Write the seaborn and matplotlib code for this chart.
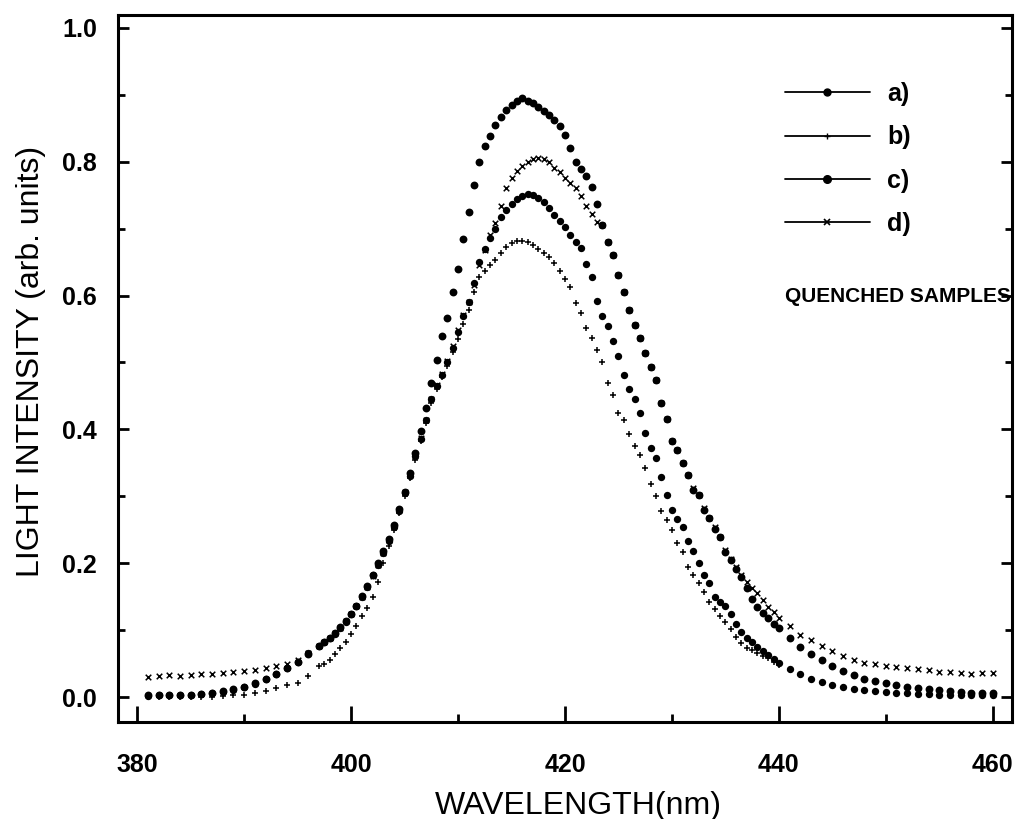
import numpy as np
import pandas as pd
import matplotlib
matplotlib.use("Agg")
import matplotlib.pyplot as plt
from matplotlib.lines import Line2D
from matplotlib.ticker import MultipleLocator
import seaborn as sns

# ---------------- data ----------------
# sampling: 1 nm on the tails, 0.5 nm across the band
wavelength_nm = np.concatenate([np.arange(381, 397, 1.0),
                                np.arange(397, 440.5, 0.5),
                                np.arange(441, 461, 1.0)])

series_a = [0.003, 0.003, 0.004, 0.004, 0.004, 0.005, 0.006, 0.009, 0.012, 0.016, 0.021, 0.027, 0.035, 0.043, 0.053, 0.064,
            0.077, 0.083, 0.089, 0.096, 0.105, 0.114, 0.125, 0.137, 0.151, 0.166,
            0.183, 0.200, 0.218, 0.237, 0.258, 0.281, 0.307, 0.335, 0.365, 0.398,
            0.432, 0.470, 0.503, 0.540, 0.566, 0.605, 0.640, 0.685, 0.725, 0.765,
            0.800, 0.823, 0.838, 0.854, 0.867, 0.877, 0.884, 0.890, 0.895, 0.891,
            0.887, 0.882, 0.875, 0.870, 0.862, 0.853, 0.840, 0.820, 0.800, 0.789,
            0.778, 0.762, 0.736, 0.706, 0.680, 0.660, 0.630, 0.606, 0.578, 0.556,
            0.537, 0.514, 0.494, 0.474, 0.440, 0.415, 0.382, 0.369, 0.350, 0.332,
            0.310, 0.302, 0.280, 0.268, 0.252, 0.240, 0.217, 0.205, 0.192, 0.180,
            0.163, 0.147, 0.135, 0.126, 0.118, 0.110, 0.103,
            0.089, 0.075, 0.064, 0.055, 0.046, 0.039, 0.033, 0.028, 0.025, 0.022,
            0.019, 0.016, 0.014, 0.013, 0.011, 0.009, 0.008, 0.007, 0.006, 0.006]

series_b = [0.000, 0.000, 0.000, 0.001, 0.001, 0.001, 0.001, 0.002, 0.003, 0.004, 0.006, 0.010, 0.014, 0.019, 0.022, 0.032,
            0.046, 0.050, 0.056, 0.064, 0.074, 0.083, 0.095, 0.106, 0.122, 0.133,
            0.150, 0.172, 0.200, 0.226, 0.250, 0.275, 0.300, 0.328, 0.355, 0.383,
            0.410, 0.440, 0.460, 0.478, 0.495, 0.515, 0.535, 0.558, 0.578, 0.605,
            0.628, 0.637, 0.645, 0.653, 0.664, 0.672, 0.678, 0.682, 0.682, 0.680,
            0.675, 0.670, 0.663, 0.658, 0.649, 0.636, 0.624, 0.612, 0.589, 0.574,
            0.552, 0.536, 0.518, 0.500, 0.469, 0.452, 0.425, 0.414, 0.393, 0.375,
            0.362, 0.342, 0.318, 0.300, 0.278, 0.265, 0.250, 0.230, 0.217, 0.195,
            0.182, 0.170, 0.157, 0.142, 0.132, 0.122, 0.113, 0.102, 0.090, 0.081,
            0.074, 0.070, 0.066, 0.062, 0.058, 0.053, 0.048,
            0.040, 0.033, 0.027, 0.022, 0.018, 0.015, 0.012, 0.010, 0.008, 0.007,
            0.006, 0.005, 0.005, 0.004, 0.004, 0.003, 0.003, 0.003, 0.002, 0.002]

series_c = [0.002, 0.003, 0.003, 0.004, 0.004, 0.005, 0.006, 0.008, 0.011, 0.015, 0.020, 0.027, 0.035, 0.043, 0.053, 0.066,
            0.076, 0.082, 0.088, 0.095, 0.103, 0.113, 0.124, 0.136, 0.150, 0.165,
            0.182, 0.198, 0.215, 0.234, 0.255, 0.278, 0.305, 0.330, 0.360, 0.386,
            0.414, 0.445, 0.465, 0.482, 0.500, 0.522, 0.545, 0.569, 0.590, 0.619,
            0.650, 0.670, 0.686, 0.700, 0.717, 0.728, 0.737, 0.744, 0.749, 0.751,
            0.750, 0.746, 0.739, 0.731, 0.721, 0.711, 0.702, 0.690, 0.680, 0.671,
            0.647, 0.628, 0.592, 0.570, 0.555, 0.532, 0.509, 0.481, 0.460, 0.445,
            0.425, 0.395, 0.372, 0.357, 0.329, 0.302, 0.280, 0.266, 0.255, 0.233,
            0.218, 0.200, 0.182, 0.170, 0.150, 0.142, 0.137, 0.125, 0.110, 0.098,
            0.088, 0.082, 0.075, 0.069, 0.063, 0.057, 0.051,
            0.042, 0.035, 0.028, 0.023, 0.019, 0.016, 0.013, 0.011, 0.009, 0.008,
            0.007, 0.006, 0.005, 0.005, 0.004, 0.004, 0.003, 0.003, 0.003, 0.003]

series_d = [0.031, 0.032, 0.033, 0.032, 0.033, 0.034, 0.034, 0.036, 0.037, 0.039, 0.041, 0.043, 0.046, 0.050, 0.056, 0.066,
            0.077, 0.083, 0.089, 0.096, 0.104, 0.114, 0.125, 0.137, 0.150, 0.165,
            0.181, 0.198, 0.216, 0.235, 0.256, 0.279, 0.306, 0.332, 0.360, 0.387,
            0.414, 0.446, 0.466, 0.483, 0.502, 0.524, 0.548, 0.571, 0.590, 0.616,
            0.645, 0.668, 0.690, 0.708, 0.733, 0.760, 0.776, 0.786, 0.793, 0.800,
            0.804, 0.806, 0.804, 0.800, 0.790, 0.784, 0.775, 0.768, 0.760, 0.748,
            0.733, 0.722, 0.710, 0.706, 0.680, 0.660, 0.630, 0.606, 0.578, 0.556,
            0.537, 0.514, 0.494, 0.474, 0.440, 0.415, 0.382, 0.369, 0.350, 0.332,
            0.312, 0.302, 0.282, 0.268, 0.254, 0.240, 0.220, 0.207, 0.195, 0.183,
            0.172, 0.163, 0.155, 0.146, 0.135, 0.127, 0.119,
            0.106, 0.093, 0.085, 0.077, 0.069, 0.061, 0.055, 0.051, 0.049, 0.047,
            0.045, 0.044, 0.042, 0.040, 0.038, 0.037, 0.036, 0.035, 0.036, 0.036]

series_labels = ["a)", "b)", "c)", "d)"]
x_ticks = [380, 400, 420, 440, 460]
y_ticks = [0.0, 0.2, 0.4, 0.6, 0.8, 1.0]

# ---------------- style ----------------
sns.set_theme(style="ticks")
plt.rcParams["font.family"] = ["Liberation Sans", "DejaVu Sans"]
for key in ["text.color", "axes.labelcolor", "xtick.color", "ytick.color",
            "axes.edgecolor"]:
    plt.rcParams[key] = "black"

fig = plt.figure(figsize=(10.18, 8.19), dpi=100)
ax = fig.add_axes([0.1159, 0.1184, 0.8782, 0.8633])

styles = {
    "a)": dict(marker="o", s=32, linewidth=0),
    "b)": dict(marker="+", s=18, linewidth=1.1),
    "c)": dict(marker="o", s=28, linewidth=0),
    "d)": dict(marker="x", s=16, linewidth=1.1),
}
for lab, vals in zip(series_labels, [series_a, series_b, series_c, series_d]):
    df = pd.DataFrame({"wl": wavelength_nm, "I": vals})
    sns.scatterplot(data=df, x="wl", y="I", color="black", ax=ax, legend=False,
                    **styles[lab])

ax.set_xlim(378.2, 461.8)
ax.set_ylim(-0.037, 1.019)
ax.set_xticks(x_ticks)
ax.set_yticks(y_ticks)
ax.xaxis.set_minor_locator(MultipleLocator(10))
ax.yaxis.set_minor_locator(MultipleLocator(0.1))
ax.set_xticklabels([str(t) for t in x_ticks], fontweight="bold")
ax.set_yticklabels([f"{t:.1f}" for t in y_ticks], fontweight="bold")

ax.tick_params(which="both", direction="in", top=False, right=True,
               width=2, color="black")
ax.tick_params(axis="x", which="major", length=11.5, pad=22, labelsize=18)
ax.tick_params(axis="x", which="minor", length=6)
ax.tick_params(axis="y", which="major", length=8, pad=15, labelsize=18)
ax.tick_params(axis="y", which="minor", length=5)
for sp in ax.spines.values():
    sp.set_linewidth(2.2)
    sp.set_color("black")

ax.set_xlabel("WAVELENGTH(nm)", fontsize=23)
ax.set_ylabel("LIGHT INTENSITY (arb. units)", fontsize=23)
ax.xaxis.set_label_coords(0.515, -0.097)
ax.yaxis.set_label_coords(-0.0805, 0.51)

handles = [
    Line2D([0], [0], color="black", lw=1.3, marker="o", ms=5),
    Line2D([0], [0], color="black", lw=1.3, marker="+", ms=4, mew=1),
    Line2D([0], [0], color="black", lw=1.3, marker="o", ms=5.5),
    Line2D([0], [0], color="black", lw=1.3, marker="x", ms=4.5, mew=1.2),
]
ax.legend(handles, series_labels, loc="upper left", bbox_to_anchor=(0.746, 0.905),
          frameon=False, prop={"size": 18, "weight": "bold"}, handlelength=3.4,
          handletextpad=0.7, labelspacing=0.77, borderpad=0, borderaxespad=0,
          numpoints=1)

ax.text(440.6, 0.598, "QUENCHED SAMPLES", fontsize=15, fontweight="bold",
        va="center", ha="left")

fig.savefig("out.png", dpi=100)
